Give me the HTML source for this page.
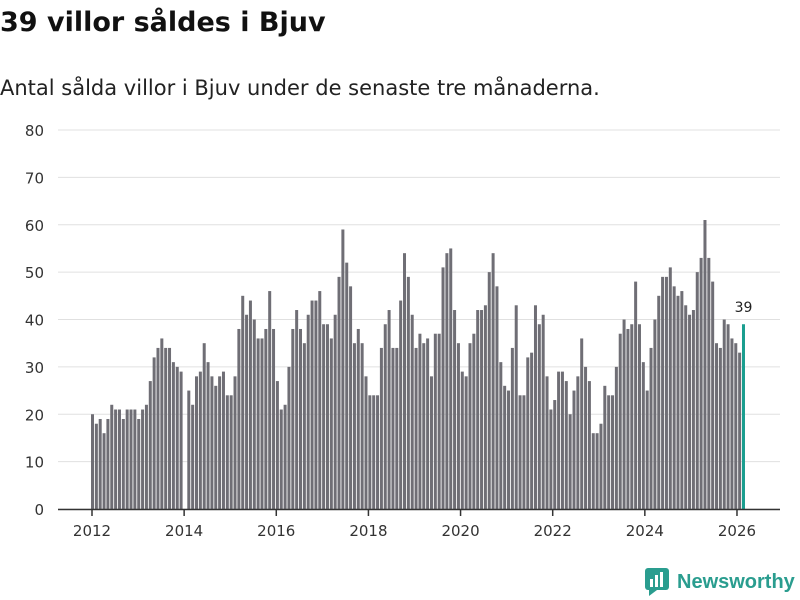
<!DOCTYPE html>
<html><head><meta charset="utf-8"><style>
body{margin:0;width:800px;height:600px;background:#fff;font-family:"DejaVu Sans","Liberation Sans",sans-serif;overflow:hidden;position:relative}
h1{position:absolute;left:0;top:7px;margin:0;font-size:27px;font-weight:bold;color:#111}
p{position:absolute;left:0;top:76px;margin:0;font-size:21px;color:#222}
</style></head><body>
<h1>39 villor såldes i Bjuv</h1>
<p>Antal sålda villor i Bjuv under de senaste tre månaderna.</p>
<svg id="c" width="800" height="600" style="position:absolute;left:0;top:0"></svg>
<script>
const values=[20,18,19,16,19,22,21,21,19,21,21,21,
19,21,22,27,32,34,36,34,34,31,30,29,
0,
25,22,28,29,35,31,28,26,28,29,24,24,28,38,45,41,44,40,
36,36,38,46,38,27,21,22,30,38,42,38,35,41,44,44,46,39,39,36,41,49,59,52,47,35,38,35,28,24,24,24,34,39,42,34,34,44,54,49,41,34,
37,35,36,28,37,37,51,54,55,42,35,29,28,35,37,42,42,43,50,54,47,31,26,25,34,43,24,24,32,33,43,39,41,28,21,23,29,29,27,20,25,28,36,
30,27,16,16,18,26,24,24,30,37,40,38,39,48,39,31,25,34,40,45,49,49,51,47,45,46,43,41,42,50,53,61,53,48,35,34,40,39,36,35,33,39];
const yTicks=[0,10,20,30,40,50,60,70,80];
const xTicks=[2012,2014,2016,2018,2020,2022,2024,2026];
const startYear=2012;
const NS="http://www.w3.org/2000/svg";
const svg=document.getElementById('c');
const y=v=>509-v*(379/80);
const xYear=yr=>92+(yr-startYear)*46.07;
const xIdx=i=>92.5+i*3.852;
const FONT='DejaVu Sans, Liberation Sans, sans-serif';
function mk(t,a,p){const e=document.createElementNS(NS,t);for(const k in a)e.setAttribute(k,a[k]);(p||svg).appendChild(e);return e;}
yTicks.forEach(v=>{
 const g=mk('line',{x1:58,x2:780,y1:y(v),y2:y(v),stroke:'#e0e0e0','stroke-width':1});
 
 
 const t=mk('text',{x:44,y:y(v)+6,'text-anchor':'end','font-size':15,fill:'#333','font-family':FONT});
 t.textContent=v;
 
 
});
values.forEach((v,i)=>{
 const last=i===values.length-1;
 const r=mk('rect',{x:xIdx(i)-1.5,y:y(v),width:3,height:509-y(v),fill:last?'#1a9e8f':'#6f6e75'});
 
 
});
const li=values.length-1;
const lb=mk('text',{x:xIdx(li),y:y(values[li])-12,'text-anchor':'middle','font-size':14,fill:'#222','font-family':FONT});
lb.textContent=values[li];


const ax=mk('line',{x1:58,x2:780,y1:509.5,y2:509.5,stroke:'#333','stroke-width':1.5});


xTicks.forEach(yr=>{
 const tk=mk('line',{x1:xYear(yr),x2:xYear(yr),y1:509,y2:516,stroke:'#333','stroke-width':1.5});
 
 
 const t=mk('text',{x:xYear(yr),y:536,'text-anchor':'middle','font-size':15,fill:'#333','font-family':FONT});
 t.textContent=yr;
 
 
});
</script>
<div style="position:absolute;left:645px;top:568px;display:flex;align-items:center">
<svg width="24" height="28" viewBox="0 0 24 28"><rect x="0" y="0" width="24" height="22" rx="3" fill="#2a9d8f"/><polygon points="4,22 12,22 4,28" fill="#2a9d8f"/><rect x="5" y="11" width="3" height="8" fill="#fff"/><rect x="10" y="7" width="3" height="12" fill="#fff"/><rect x="15" y="4" width="3" height="15" fill="#fff"/></svg>
<span style="font-size:20px;font-weight:bold;color:#2a9d8f;margin-left:8px;font-family:'Liberation Sans',sans-serif">Newsworthy</span>
</div>
</body></html>
